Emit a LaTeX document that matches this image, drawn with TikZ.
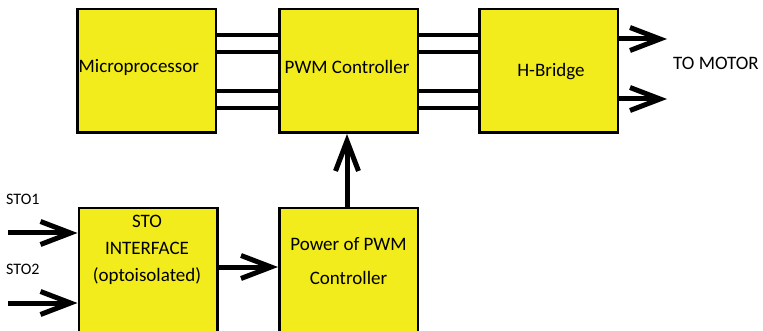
\documentclass[tikz,border=0pt]{standalone}
\usepackage{fontspec}
\setmainfont{Carlito}
\usetikzlibrary{arrows.meta}
\definecolor{boxyellow}{RGB}{242,236,28}
\begin{document}
\begin{tikzpicture}[x=1pt,y=-1pt,
  blk/.style={draw=black, line width=2.5pt, fill=boxyellow, minimum width=138.5pt, minimum height=123.5pt, inner sep=0pt},
  lbl/.style={font=\fontsize{19}{27}\selectfont, inner sep=0pt},
  small/.style={font=\fontsize{16}{18}\selectfont, inner sep=0pt},
  bus/.style={line width=4pt},
  arr/.style={line width=5pt, -{Straight Barb[length=30pt, width=23pt]}}]
\useasboundingbox (0,0) rectangle (763,331);
\node[blk] (micro) at (146.5,71) {};
\node[blk] (pwm) at (348.5,71) {};
\node[blk] (hb) at (548.5,71) {};
\node[blk] (sto) at (148,270) {};
\node[blk] (pow) at (348.5,270) {};
\node[lbl, anchor=west] (tmicro) at (78.5,67) {Microprocessor};
\node[lbl, anchor=west] (tpwm) at (284.5,67) {PWM Controller};
\node[lbl] (thb) at (551,72) {H-Bridge};
\node[lbl, align=center] (tsto) at (147,250) {STO\\INTERFACE\\(optoisolated)};
\node[lbl, align=center, font=\fontsize{19}{34}\selectfont] (tpow) at (348.5,261) {Power of PWM\\Controller};
\node[lbl, anchor=west] (tmotor) at (673,63) {TO MOTOR};
\node[small, anchor=west] (s1) at (6,199) {STO1};
\node[small, anchor=west] (s2) at (6,269) {STO2};
\coordinate (in1) at (8,233);
\coordinate (in2) at (8,303);
\coordinate (m1) at (667,39);
\coordinate (m2) at (667,99);
\foreach \yy in {35,52,91,108} {
  \draw[bus] (micro.east |- 0,\yy) -- (pwm.west |- 0,\yy);
  \draw[bus] (pwm.east |- 0,\yy) -- (hb.west |- 0,\yy);
}
\draw[arr] (hb.east |- m1) -- (m1);
\draw[arr] (hb.east |- m2) -- (m2);
\draw[arr] (in1) -- (sto.west |- in1);
\draw[arr] (in2) -- (sto.west |- in2);
\draw[arr] (sto.east |- 0,267) -- (pow.west |- 0,267);
\draw[arr] (pow.north -| 347,0) -- (pwm.south -| 347,0);
\end{tikzpicture}
\end{document}
